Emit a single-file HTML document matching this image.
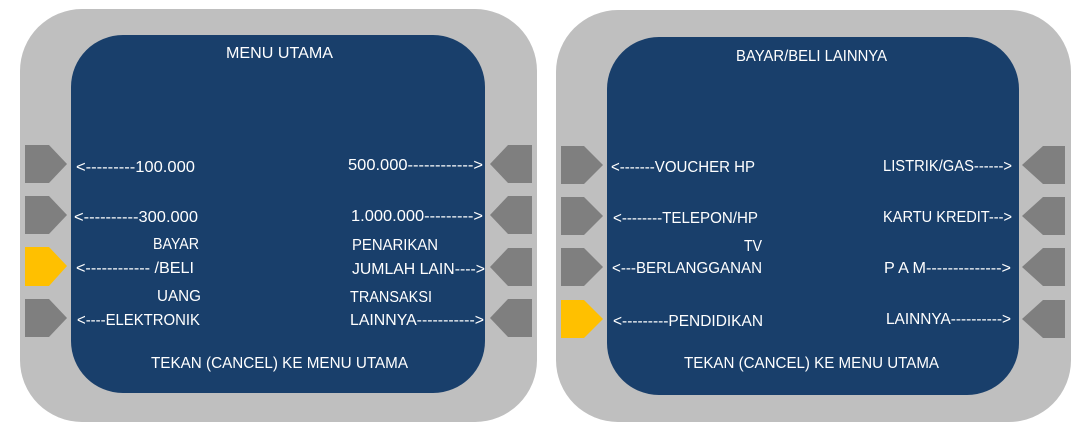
<!DOCTYPE html>
<html><head><meta charset="utf-8"><style>
html,body{margin:0;padding:0;background:#fff;}
svg{display:block;}
text{font-family:"Liberation Sans",sans-serif;font-size:16px;fill:#fff;}
</style></head><body>
<svg width="1087" height="442" viewBox="0 0 1087 442" xmlns="http://www.w3.org/2000/svg">
<!-- Left panel -->
<rect x="20" y="9" width="517" height="413" rx="62" fill="#bfbfbf"/>
<rect x="71" y="35" width="414" height="358" rx="52" fill="#193f6b"/>
<g fill="#7f7f7f">
<polygon points="25,145 49,145 67,164 49,183 25,183"/>
<polygon points="25,196 49,196 67,215 49,234 25,234"/>
<polygon points="25,299 49,299 67,318 49,337 25,337"/>
<polygon points="532,145 508,145 490,164 508,183 532,183"/>
<polygon points="532,196 508,196 490,215 508,234 532,234"/>
<polygon points="532,248 508,248 490,267 508,286 532,286"/>
<polygon points="532,299 508,299 490,318 508,337 532,337"/>
</g>
<polygon points="25,247 49,247 67,266 49,286 25,286" fill="#ffc000"/>
<text x="226" y="58" textLength="107" lengthAdjust="spacingAndGlyphs">MENU UTAMA</text>
<text x="76" y="172" textLength="119" lengthAdjust="spacingAndGlyphs">&lt;---------100.000</text>
<text x="348" y="170" textLength="135" lengthAdjust="spacingAndGlyphs">500.000------------&gt;</text>
<text x="74" y="222" textLength="124" lengthAdjust="spacingAndGlyphs">&lt;----------300.000</text>
<text x="351" y="221" textLength="132" lengthAdjust="spacingAndGlyphs">1.000.000---------&gt;</text>
<text x="153" y="249" textLength="46" lengthAdjust="spacingAndGlyphs">BAYAR</text>
<text x="76" y="273" textLength="118" lengthAdjust="spacingAndGlyphs">&lt;------------ /BELI</text>
<text x="352" y="250" textLength="86" lengthAdjust="spacingAndGlyphs">PENARIKAN</text>
<text x="352" y="274" textLength="133" lengthAdjust="spacingAndGlyphs">JUMLAH LAIN----&gt;</text>
<text x="157" y="301" textLength="44" lengthAdjust="spacingAndGlyphs">UANG</text>
<text x="77" y="325" textLength="123" lengthAdjust="spacingAndGlyphs">&lt;----ELEKTRONIK</text>
<text x="350" y="302" textLength="82" lengthAdjust="spacingAndGlyphs">TRANSAKSI</text>
<text x="350" y="325" textLength="134" lengthAdjust="spacingAndGlyphs">LAINNYA-----------&gt;</text>
<text x="151" y="368" textLength="257" lengthAdjust="spacingAndGlyphs">TEKAN (CANCEL) KE MENU UTAMA</text>

<!-- Right panel -->
<rect x="556" y="10" width="515" height="412" rx="62" fill="#bfbfbf"/>
<rect x="607" y="37" width="412" height="358" rx="52" fill="#193f6b"/>
<g fill="#7f7f7f">
<polygon points="561,146 584,146 603,165 584,184 561,184"/>
<polygon points="561,197 584,197 603,216 584,235 561,235"/>
<polygon points="561,248 584,248 603,267 584,286 561,286"/>
<polygon points="1065,146 1043,146 1022,165 1043,184 1065,184"/>
<polygon points="1065,197 1043,197 1022,216 1043,235 1065,235"/>
<polygon points="1065,248 1043,248 1022,267 1043,286 1065,286"/>
<polygon points="1065,300 1043,300 1022,319 1043,338 1065,338"/>
</g>
<polygon points="561,300 584,300 603,319 584,338 561,338" fill="#ffc000"/>
<text x="736" y="61" textLength="151" lengthAdjust="spacingAndGlyphs">BAYAR/BELI LAINNYA</text>
<text x="611" y="172" textLength="144" lengthAdjust="spacingAndGlyphs">&lt;-------VOUCHER HP</text>
<text x="883" y="171" textLength="129" lengthAdjust="spacingAndGlyphs">LISTRIK/GAS------&gt;</text>
<text x="613" y="223" textLength="145" lengthAdjust="spacingAndGlyphs">&lt;--------TELEPON/HP</text>
<text x="883" y="222" textLength="129" lengthAdjust="spacingAndGlyphs">KARTU KREDIT---&gt;</text>
<text x="744" y="251" textLength="18" lengthAdjust="spacingAndGlyphs">TV</text>
<text x="612" y="273" textLength="150" lengthAdjust="spacingAndGlyphs">&lt;---BERLANGGANAN</text>
<text x="884" y="273" textLength="127" lengthAdjust="spacingAndGlyphs">P A M--------------&gt;</text>
<text x="613" y="326" textLength="150" lengthAdjust="spacingAndGlyphs">&lt;---------PENDIDIKAN</text>
<text x="886" y="324" textLength="125" lengthAdjust="spacingAndGlyphs">LAINNYA----------&gt;</text>
<text x="684" y="368" textLength="255" lengthAdjust="spacingAndGlyphs">TEKAN (CANCEL) KE MENU UTAMA</text>
</svg>
</body></html>
